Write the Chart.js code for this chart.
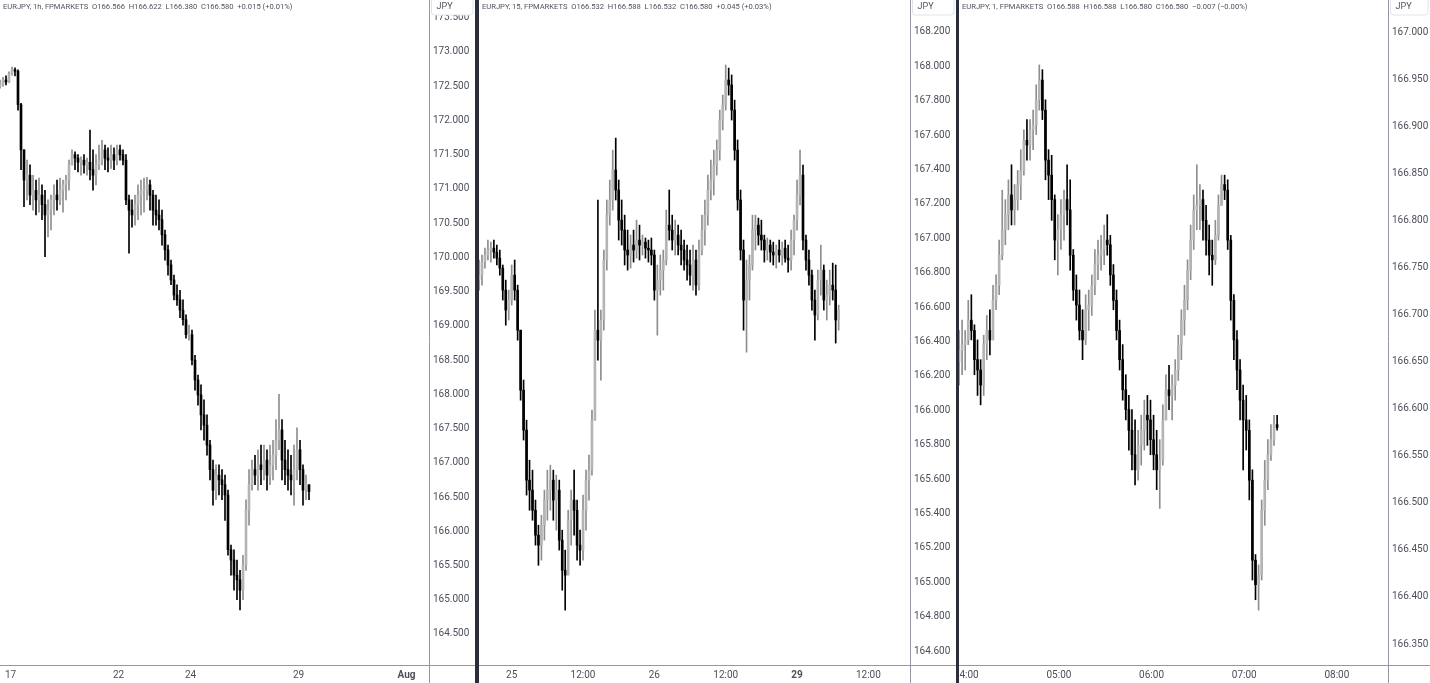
<!DOCTYPE html>
<html><head><meta charset="utf-8">
<script src="https://cdn.jsdelivr.net/npm/chart.js@4.4.1/dist/chart.umd.min.js"></script>
<style>
html,body{margin:0;padding:0;background:#2b2e38;width:1430px;height:683px;overflow:hidden;}
.panel{position:absolute;top:0;height:683px;background:#fff;}
canvas{display:block;}
</style></head><body>
<div class="panel" style="left:0;width:475px"><canvas id="c1" width="475" height="683"></canvas></div>
<div class="panel" style="left:479px;width:477px"><canvas id="c2" width="477" height="683"></canvas></div>
<div class="panel" style="left:959px;width:471px"><canvas id="c3" width="471" height="683"></canvas></div>
<script>
// ---------- Panel 1: EURJPY 1h (2-hour steps) ----------
const p1Header = "EURJPY, 1h, FPMARKETS  O166.566  H166.622  L166.380  C166.580  +0.015 (+0.01%)";
const p1FirstOpen = 172.50;
const p1High = [172.59,172.63,172.65,172.71,172.78,172.77,172.74,172.25,171.57,171.42,171.35,171.20,171.13,171.16,171.06,170.98,170.84,170.91,171.06,171.13,171.16,171.13,171.20,171.42,171.57,171.54,171.50,171.47,171.50,171.45,171.86,171.57,171.50,171.64,171.71,171.64,171.60,171.64,171.60,171.64,171.64,171.57,171.50,170.91,170.84,170.91,171.06,171.13,171.16,171.17,171.13,170.98,170.91,170.84,170.69,170.40,170.18,169.96,169.74,169.60,169.52,169.38,169.16,169.01,168.94,168.57,168.28,168.14,167.92,167.70,167.33,167.04,166.97,166.97,166.90,166.82,166.60,165.80,165.73,165.58,165.43,165.65,166.46,166.90,167.04,167.11,167.19,167.26,167.26,167.19,167.26,167.33,167.63,168.00,167.63,167.33,167.19,167.11,167.26,167.51,167.33,166.97,166.82,166.68];
const p1Low = [172.47,172.50,172.52,172.55,172.66,172.65,172.15,171.28,170.74,170.84,170.77,170.69,170.62,170.66,170.55,170.01,170.30,170.40,170.62,170.69,170.77,170.66,170.84,170.98,171.35,171.28,171.25,171.20,171.23,171.20,171.13,170.98,171.06,171.28,171.35,171.28,171.25,171.30,171.28,171.35,171.42,171.35,170.77,170.06,170.44,170.47,170.55,170.62,170.66,170.84,170.69,170.47,170.47,170.40,170.18,169.96,169.74,169.60,169.38,169.30,169.12,169.01,168.82,168.79,168.43,168.06,167.84,167.48,167.33,167.11,166.75,166.38,166.46,166.53,166.46,166.16,165.65,165.36,165.14,165.00,164.85,165.00,165.43,166.09,166.60,166.68,166.60,166.68,166.75,166.60,166.68,166.75,166.90,167.19,166.75,166.68,166.60,166.53,166.38,166.75,166.68,166.38,166.46,166.46];
const p1Close = [172.53,172.59,172.56,172.68,172.74,172.72,172.23,171.57,171.13,171.20,170.91,170.98,170.84,170.91,170.77,170.62,170.69,170.84,170.91,170.84,170.98,171.06,171.13,171.35,171.50,171.45,171.39,171.42,171.35,171.39,171.28,171.20,171.35,171.42,171.57,171.45,171.42,171.50,171.42,171.57,171.50,171.42,170.84,170.69,170.62,170.77,170.91,170.98,170.98,171.06,170.91,170.69,170.62,170.55,170.33,170.11,169.89,169.67,169.45,169.38,169.23,169.09,168.87,168.87,168.50,168.21,167.99,167.70,167.55,167.26,166.90,166.60,166.82,166.75,166.68,166.53,165.73,165.58,165.36,165.29,165.14,165.51,166.31,166.68,166.90,166.82,166.97,166.90,167.04,166.82,166.97,167.11,167.33,167.48,167.04,166.90,166.82,166.75,166.90,167.19,166.90,166.60,166.68,166.58];
const p1YTicks = [173.5,173.0,172.5,172.0,171.5,171.0,170.5,170.0,169.5,169.0,168.5,168.0,167.5,167.0,166.5,166.0,165.5,165.0,164.5];
const p1TickPos = [7,79,127,199,271];
const p1TickLabels = ["17","22","24","29","Aug"];
const p1TickBold = [false,false,false,false,true];

// ---------- Panel 2: EURJPY 15m (30-minute steps) ----------
const p2Header = "EURJPY, 15, FPMARKETS  O166.532  H166.588  L166.532  C166.580  +0.045 (+0.03%)";
const p2FirstOpen = 166.760;
const p2High = [166.874,166.903,166.943,166.990,166.978,166.990,166.961,166.932,166.845,166.757,166.699,166.845,166.874,166.728,166.466,166.176,165.943,165.710,165.652,165.478,165.332,165.390,165.536,165.652,165.681,165.652,165.623,165.594,165.303,165.187,165.419,165.536,165.652,165.478,165.303,165.507,165.652,165.739,166.001,166.583,167.223,166.583,166.932,167.223,167.339,167.513,167.583,167.339,167.223,167.135,167.048,167.019,167.048,167.106,167.077,167.019,167.002,166.990,167.002,166.932,166.845,166.903,166.932,167.164,167.281,167.135,167.106,167.077,167.048,166.990,166.961,166.932,166.961,166.932,166.990,167.135,167.223,167.368,167.455,167.513,167.572,167.746,167.833,168.008,167.990,167.950,167.804,167.572,167.281,166.990,166.874,166.903,167.135,167.135,167.118,167.106,167.019,167.002,166.990,166.978,166.961,166.990,166.978,166.990,166.961,167.048,167.135,167.339,167.513,167.426,167.019,166.932,166.815,166.699,166.815,166.961,166.845,166.757,166.815,166.856,166.845,166.612];
const p2Low = [166.699,166.728,166.827,166.874,166.862,166.885,166.845,166.786,166.641,166.495,166.525,166.612,166.641,166.408,166.059,165.827,165.507,165.419,165.361,165.216,165.099,165.129,165.245,165.361,165.419,165.361,165.303,165.187,164.954,164.838,165.070,165.216,165.274,165.129,165.099,165.129,165.303,165.478,165.623,165.943,166.292,166.176,166.466,166.815,167.077,167.164,167.223,166.990,166.961,166.845,166.815,166.827,166.862,166.885,166.874,166.903,166.885,166.862,166.845,166.641,166.437,166.670,166.699,166.845,166.990,166.932,166.903,166.903,166.845,166.815,166.757,166.728,166.699,166.670,166.699,166.903,166.961,167.077,167.223,167.252,167.368,167.455,167.630,167.746,167.833,167.688,167.455,167.164,166.874,166.466,166.338,166.641,166.815,166.932,166.961,166.932,166.862,166.874,166.862,166.845,166.827,166.862,166.845,166.862,166.804,166.815,166.903,167.048,167.194,166.932,166.815,166.728,166.583,166.408,166.525,166.670,166.583,166.525,166.612,166.641,166.391,166.466];
const p2Close = [166.786,166.862,166.903,166.932,166.943,166.920,166.885,166.827,166.699,166.583,166.641,166.786,166.699,166.466,166.117,165.885,165.594,165.536,165.419,165.274,165.216,165.332,165.478,165.536,165.594,165.478,165.536,165.245,165.070,165.041,165.361,165.478,165.419,165.216,165.187,165.419,165.594,165.652,165.943,166.466,166.408,166.525,166.874,167.135,167.223,167.397,167.281,167.106,167.048,166.932,166.903,166.961,166.932,166.990,166.961,166.978,166.943,166.932,166.903,166.699,166.757,166.815,166.874,167.077,167.048,166.990,167.019,166.961,166.932,166.874,166.845,166.786,166.874,166.728,166.932,167.048,167.135,167.281,167.339,167.426,167.513,167.688,167.775,167.921,167.892,167.746,167.513,167.223,166.932,166.641,166.757,166.845,167.048,167.077,167.019,166.990,166.932,166.961,166.920,166.903,166.932,166.903,166.943,166.885,166.874,166.990,167.106,167.252,167.368,166.990,166.874,166.786,166.641,166.554,166.757,166.815,166.641,166.670,166.728,166.699,166.525,166.583];
const p2YTicks = [168.2,168.0,167.8,167.6,167.4,167.2,167.0,166.8,166.6,166.4,166.2,166.0,165.8,165.6,165.4,165.2,165.0,164.8,164.6];
const p2TickPos = [22,70,118,166,214,262];
const p2TickLabels = ["25","12:00","26","12:00","29","12:00"];
const p2TickBold = [false,false,false,false,true,false];

// ---------- Panel 3: EURJPY 1m (2-minute steps) ----------
const p3Header = "EURJPY, 1, FPMARKETS  O166.588  H166.588  L166.580  C166.580  \u22120.007 (\u22120.00%)";
const p3FirstOpen = 166.650;
const p3High = [166.683,166.694,166.683,166.715,166.721,166.689,166.673,166.652,166.678,166.699,166.705,166.731,166.742,166.779,166.832,166.822,166.843,166.859,166.838,166.853,166.875,166.896,166.907,166.907,166.917,166.944,166.965,166.960,166.928,166.875,166.869,166.827,166.806,166.822,166.832,166.859,166.843,166.769,166.742,166.726,166.705,166.721,166.726,166.742,166.769,166.779,166.784,166.795,166.806,166.784,166.753,166.726,166.694,166.668,166.636,166.614,166.599,166.588,166.577,166.593,166.609,166.614,166.609,166.593,166.577,166.567,166.604,166.636,166.646,166.636,166.652,166.678,166.705,166.731,166.758,166.795,166.827,166.859,166.838,166.832,166.816,166.795,166.779,166.800,166.827,166.848,166.848,166.843,166.784,166.721,166.683,166.652,166.625,166.614,166.588,166.535,166.445,166.434,166.503,166.545,166.567,166.583,166.593,166.593];
const p3Low = [166.625,166.636,166.641,166.668,166.673,166.636,166.614,166.604,166.614,166.652,166.657,166.673,166.705,166.721,166.758,166.774,166.790,166.795,166.795,166.811,166.822,166.848,166.864,166.864,166.875,166.891,166.917,166.907,166.843,166.822,166.800,166.758,166.742,166.769,166.779,166.795,166.747,166.715,166.694,166.673,166.652,166.668,166.683,166.699,166.721,166.737,166.747,166.753,166.763,166.731,166.705,166.673,166.641,166.609,166.588,166.556,166.535,166.519,166.524,166.540,166.556,166.561,166.551,166.535,166.514,166.494,166.540,166.588,166.599,166.588,166.609,166.630,166.652,166.678,166.705,166.737,166.769,166.790,166.790,166.779,166.763,166.742,166.731,166.753,166.779,166.816,166.822,166.769,166.694,166.652,166.620,166.588,166.535,166.556,166.503,166.418,166.397,166.386,166.418,166.476,166.514,166.545,166.561,166.577];
const p3Close = [166.662,166.668,166.673,166.694,166.683,166.652,166.641,166.625,166.668,166.683,166.673,166.715,166.731,166.763,166.790,166.806,166.827,166.811,166.822,166.838,166.853,166.885,166.880,166.896,166.901,166.928,166.949,166.917,166.864,166.848,166.822,166.779,166.790,166.806,166.822,166.811,166.763,166.726,166.710,166.683,166.673,166.705,166.710,166.731,166.753,166.763,166.769,166.779,166.774,166.742,166.715,166.683,166.652,166.620,166.599,166.577,166.551,166.535,166.561,166.577,166.593,166.588,166.567,166.551,166.535,166.545,166.588,166.620,166.614,166.625,166.641,166.668,166.694,166.715,166.747,166.779,166.811,166.816,166.822,166.800,166.779,166.763,166.758,166.784,166.816,166.838,166.832,166.779,166.715,166.673,166.641,166.609,166.588,166.577,166.524,166.439,166.413,166.423,166.492,166.524,166.551,166.567,166.583,166.580];
const p3YTicks = [167.0,166.95,166.9,166.85,166.8,166.75,166.7,166.65,166.6,166.55,166.5,166.45,166.4,166.35];
const p3TickPos = [4.7,64.7,124.7,184.7,244.7];
const p3TickLabels = ["04:00","05:00","06:00","07:00","08:00"];
const p3TickBold = [false,false,false,false,false];

const FONT = "Roboto, 'Liberation Sans', sans-serif";
const UP_BODY = "#b4b4b4", UP_WICK = "#8e8e8e", DOWN = "#000000";

function makePanel(id, o) {
  const xs = o.high.map((_, k) => k * o.step);
  const opens = o.close.map((c, k) => k === 0 ? o.firstOpen : o.close[k - 1]);
  const isUp = o.close.map((c, k) => c >= opens[k]);
  const decor = {
    id: 'decor' + id,
    afterDraw(chart) {
      const ctx = chart.ctx, ca = chart.chartArea, W = chart.width, H = chart.height;
      const xs_ = chart.scales.x;
      ctx.save();
      ctx.strokeStyle = '#9598a1'; ctx.lineWidth = 1;
      ctx.beginPath();
      ctx.moveTo(Math.round(ca.right) + 0.5, 0); ctx.lineTo(Math.round(ca.right) + 0.5, H);
      ctx.moveTo(0, Math.round(ca.bottom) + 0.5); ctx.lineTo(W, Math.round(ca.bottom) + 0.5);
      ctx.stroke();
      ctx.textAlign = 'center'; ctx.textBaseline = 'middle';
      o.tickPos.forEach((p, k) => {
        ctx.font = (o.tickBold[k] ? 'bold ' : '') + '10px ' + FONT;
        ctx.fillStyle = '#4c4f5a';
        ctx.fillText(o.tickLabels[k], xs_.getPixelForValue(p), ca.bottom + 10);
      });
      ctx.textAlign = 'left';
      ctx.font = '7.6px ' + FONT; ctx.fillStyle = '#50535e';
      ctx.fillText(o.header, 3, 7);
      // JPY box
      const bx = Math.round(ca.right) + 2.5, bw = W - bx - 2;
      ctx.fillStyle = '#ffffff'; ctx.strokeStyle = '#e0e3eb';
      ctx.beginPath();
      if (ctx.roundRect) ctx.roundRect(bx, -4, bw, 19, 3); else ctx.rect(bx, -4, bw, 19);
      ctx.fill(); ctx.stroke();
      ctx.fillStyle = '#50535e'; ctx.font = '9px ' + FONT;
      ctx.fillText('JPY', bx + 5, 7);
      ctx.restore();
    }
  };
  return new Chart(document.getElementById(id), {
    type: 'bar',
    data: {
      datasets: [
        {
          label: 'body',
          data: xs.map((x, k) => ({ x: x, y: [opens[k], o.close[k]] })),
          backgroundColor: isUp.map(u => u ? UP_BODY : DOWN),
          barThickness: 2, minBarLength: 1, grouped: false, borderWidth: 0
        },
        {
          label: 'wick',
          data: xs.map((x, k) => ({ x: x, y: [o.low[k], o.high[k]] })),
          backgroundColor: isUp.map(u => u ? UP_WICK : DOWN),
          barThickness: 1, grouped: false, borderWidth: 0
        }
      ]
    },
    options: {
      responsive: false, animation: false, devicePixelRatio: 1,
      layout: { padding: 0 },
      plugins: { legend: { display: false }, tooltip: { enabled: false } },
      scales: {
        x: {
          type: 'linear', min: o.xMin, max: o.xMax, offset: false,
          grid: { display: false, drawTicks: false }, border: { display: false },
          ticks: { display: false },
          afterFit(s) { s.height = 18; s.paddingLeft = 0; s.paddingRight = 0; }
        },
        y: {
          position: 'right', min: o.yMin, max: o.yMax,
          grid: { display: false, drawTicks: false }, border: { display: false },
          afterBuildTicks(s) { s.ticks = o.yTicks.map(v => ({ value: v })); },
          ticks: {
            autoSkip: false, padding: 4, color: '#4c4f5a',
            font: { family: FONT, size: 10 },
            callback: (v) => Number(v).toFixed(3)
          },
          afterFit(s) { s.width = o.axisW; s.paddingTop = 0; s.paddingBottom = 0; }
        }
      }
    },
    plugins: [decor]
  });
}

makePanel('c1', { header: p1Header, firstOpen: p1FirstOpen, high: p1High, low: p1Low, close: p1Close, step: 2,
  xMin: 0, xMax: 286, yMin: 164.047, yMax: 173.759, yTicks: p1YTicks,
  tickPos: p1TickPos, tickLabels: p1TickLabels, tickBold: p1TickBold, axisW: 46 });
makePanel('c2', { header: p2Header, firstOpen: p2FirstOpen, high: p2High, low: p2Low, close: p2Close, step: 2,
  xMin: 0, xMax: 290, yMin: 164.519, yMax: 168.386, yTicks: p2YTicks,
  tickPos: p2TickPos, tickLabels: p2TickLabels, tickBold: p2TickBold, axisW: 46 });
makePanel('c3', { header: p3Header, firstOpen: p3FirstOpen, high: p3High, low: p3Low, close: p3Close, step: 2,
  xMin: 0, xMax: 277.8, yMin: 166.3277, yMax: 167.034, yTicks: p3YTicks,
  tickPos: p3TickPos, tickLabels: p3TickLabels, tickBold: p3TickBold, axisW: 42 });
</script>
</body></html>
